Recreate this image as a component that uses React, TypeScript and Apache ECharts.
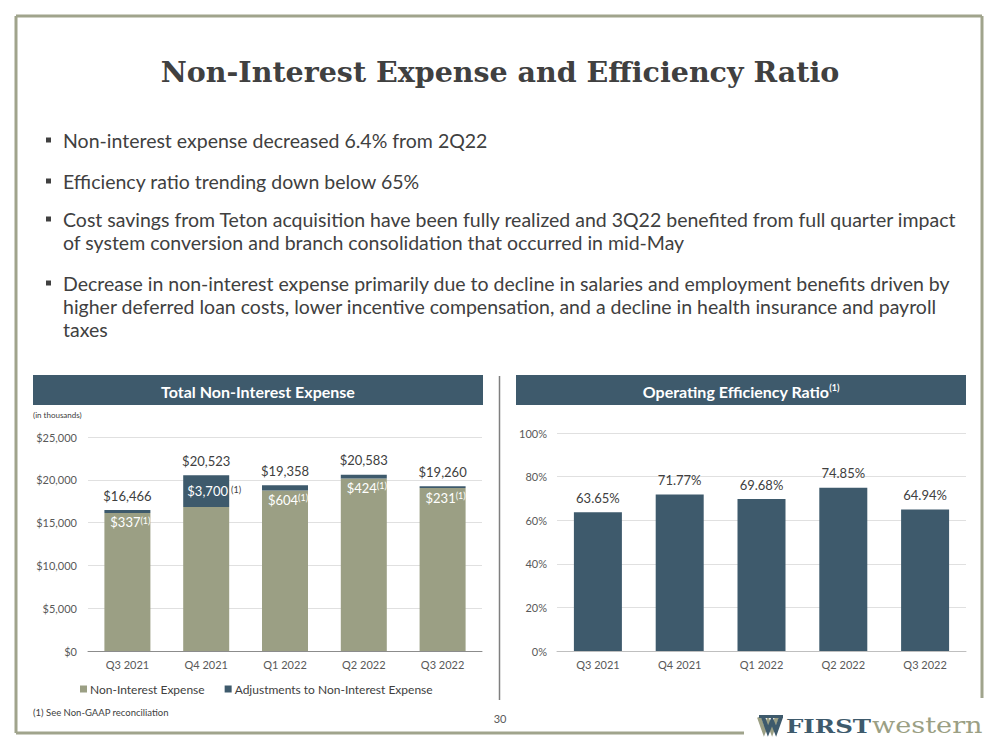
import React, { useEffect, useRef } from 'react';
import * as echarts from 'echarts';

const quarters = ['Q3 2021', 'Q4 2021', 'Q1 2022', 'Q2 2022', 'Q3 2022'];
const totalExpense = [16466, 20523, 19358, 20583, 19260];
const adjustments = [337, 3700, 604, 424, 231];
const efficiencyRatio = [63.65, 71.77, 69.68, 74.85, 64.94];
const expenseTicks = [0, 25000, 5000];
const ratioTicks = [0, 100, 20];

const bullets = [
  ['Non-interest expense decreased 6.4% from 2Q22'],
  ['Efficiency ratio trending down below 65%'],
  [
    'Cost savings from Teton acquisition have been fully realized and 3Q22 benefited from full quarter impact',
    'of system conversion and branch consolidation that occurred in mid-May',
  ],
  [
    'Decrease in non-interest expense primarily due to decline in salaries and employment benefits driven by',
    'higher deferred loan costs, lower incentive compensation, and a decline in health insurance and payroll',
    'taxes',
  ],
];

const GREEN = '#9b9f84';
const SLATE = '#3e5a6c';
const TEXT = '#404040';
const FRAME = '#a0a48c';
const FONT = 'Lato';

const fmtMoney = (v: number) => '$' + v.toLocaleString('en-US');

export default function App() {
  const ref = useRef<HTMLDivElement>(null);
  useEffect(() => {
    const chart = echarts.init(ref.current!, null, { renderer: 'svg' });
    const base = totalExpense.map((t, i) => t - adjustments[i]);

    const bulletY = [140, 181, 219, 283];
    const lineGap = 23;
    const graphic: any[] = [];
    // frame
    graphic.push(
      { type: 'line', shape: { x1: 16, y1: 16, x2: 982, y2: 16 }, style: { stroke: FRAME, lineWidth: 3 } },
      { type: 'line', shape: { x1: 16, y1: 16, x2: 16, y2: 733 }, style: { stroke: FRAME, lineWidth: 3 } },
      { type: 'line', shape: { x1: 982, y1: 16, x2: 982, y2: 698 }, style: { stroke: FRAME, lineWidth: 3 } },
      { type: 'line', shape: { x1: 16, y1: 733, x2: 744, y2: 733 }, style: { stroke: FRAME, lineWidth: 3 } }
    );
    graphic.push({
      type: 'text', x: 500, y: 72,
      style: { text: 'Non-Interest Expense and Efficiency Ratio', fontFamily: 'DejaVu Serif', fontWeight: 'bold', fontSize: 28.5, fill: TEXT, align: 'center', verticalAlign: 'middle' },
    });
    bullets.forEach((lines, bi) => {
      graphic.push({ type: 'rect', shape: { x: 46, y: bulletY[bi] - 2.5, width: 5, height: 5 }, style: { fill: TEXT } });
      lines.forEach((ln, li) => {
        graphic.push({
          type: 'text', x: 63, y: bulletY[bi] + li * lineGap,
          style: { text: ln, fontFamily: FONT, fontSize: 19.5, fill: TEXT, align: 'left', verticalAlign: 'middle' },
        });
      });
    });
    // header bars
    graphic.push(
      { type: 'rect', shape: { x: 33, y: 375, width: 450, height: 30 }, style: { fill: SLATE } },
      { type: 'text', x: 258, y: 391, style: { text: 'Total Non-Interest Expense', fontFamily: FONT, fontWeight: 'bold', fontSize: 16, fill: '#fff', align: 'center', verticalAlign: 'middle' } },
      { type: 'rect', shape: { x: 516, y: 375, width: 450, height: 30 }, style: { fill: SLATE } },
      {
        type: 'text', x: 741, y: 391,
        style: {
          text: '{h|Operating Efficiency Ratio}{s|(1)}', align: 'center', verticalAlign: 'middle',
          rich: {
            h: { fontFamily: FONT, fontWeight: 'bold', fontSize: 16, fill: '#fff', color: '#fff' },
            s: { fontFamily: FONT, fontWeight: 'bold', fontSize: 9, fill: '#fff', color: '#fff', verticalAlign: 'top' },
          },
        },
      },
      { type: 'line', shape: { x1: 499.5, y1: 376, x2: 499.5, y2: 700 }, style: { stroke: '#7f7f7f', lineWidth: 1.5 } },
      { type: 'text', x: 33, y: 415, style: { text: '(in thousands)', fontFamily: FONT, fontSize: 8, fill: TEXT, align: 'left', verticalAlign: 'middle' } },
      { type: 'text', x: 33, y: 712, style: { text: '(1) See Non-GAAP reconciliation', fontFamily: FONT, fontSize: 9.5, fill: TEXT, align: 'left', verticalAlign: 'middle' } },
      { type: 'text', x: 500, y: 718, style: { text: '30', fontFamily: FONT, fontSize: 11, fill: '#595959', align: 'center', verticalAlign: 'middle' } }
    );
    // logo
    graphic.push(
      { type: 'polyline', shape: { points: [[759, 717], [764, 731], [768, 721], [772, 731], [777, 717]] }, style: { stroke: GREEN, lineWidth: 4, fill: 'none' } },
      { type: 'polyline', shape: { points: [[763, 717], [768, 731], [772, 721], [776, 731], [781, 717]] }, style: { stroke: SLATE, lineWidth: 4, fill: 'none' } },
      { type: 'rect', shape: { x: 759, y: 715, width: 24, height: 3 }, style: { fill: SLATE } }
    );
    graphic.push({ type: 'text', x: 786, y: 727, scaleX: 1.36, style: { text: 'FIRST', fontFamily: 'DejaVu Serif', fontWeight: 'bold', fontSize: 18, fill: SLATE, align: 'left', verticalAlign: 'middle' } });
    graphic.push({ type: 'text', x: 872, y: 725, scaleX: 1.18, style: { text: 'western', fontFamily: 'DejaVu Serif', fontSize: 23, fill: GREEN, align: 'left', verticalAlign: 'middle' } });

    const axisLabel = { fontFamily: FONT, fontSize: 11, color: '#595959' };

    const option: any = {
      animation: false,
      backgroundColor: '#ffffff',
      textStyle: { fontFamily: FONT },
      graphic,
      legend: {
        data: ['Non-Interest Expense', 'Adjustments to Non-Interest Expense'],
        left: 75, top: 678, icon: 'rect', itemWidth: 7, itemHeight: 7, itemGap: 20,
        textStyle: { fontFamily: FONT, fontSize: 12, color: TEXT, padding: [0, 0, 0, -2] },
      },
      grid: [
        { left: 88, right: 517, top: 437, bottom: 99 },
        { left: 557, right: 33, top: 433, bottom: 99 },
      ],
      xAxis: [
        { type: 'category', gridIndex: 0, data: quarters, axisTick: { show: false }, axisLine: { lineStyle: { color: '#8c8c8c', width: 1 } }, axisLabel: { ...axisLabel, margin: 8 } },
        { type: 'category', gridIndex: 1, data: quarters, axisTick: { show: false }, axisLine: { lineStyle: { color: '#bfbfbf', width: 1 } }, axisLabel: { ...axisLabel, margin: 8 } },
      ],
      yAxis: [
        {
          type: 'value', gridIndex: 0, min: expenseTicks[0], max: expenseTicks[1], interval: expenseTicks[2],
          axisLine: { show: false }, axisTick: { show: false },
          splitLine: { lineStyle: { color: '#e0e0e0' } },
          axisLabel: { ...axisLabel, margin: 11, formatter: (v: number) => fmtMoney(v) },
        },
        {
          type: 'value', gridIndex: 1, min: ratioTicks[0], max: ratioTicks[1], interval: ratioTicks[2],
          axisLine: { show: false }, axisTick: { show: false },
          splitLine: { lineStyle: { color: '#e0e0e0' } },
          axisLabel: { ...axisLabel, margin: 10, formatter: (v: number) => v + '%' },
        },
      ],
      series: [
        {
          name: 'Non-Interest Expense', type: 'bar', stack: 'exp', xAxisIndex: 0, yAxisIndex: 0,
          barWidth: 46, itemStyle: { color: GREEN },
          data: base.map((v, i) => ({
            value: v,
            label: {
              show: true,
              position: 'insideTop',
              distance: 3,
              offset: i === 1 ? [8, -25] : [3, 0],
              formatter: i === 1
                ? '{w|' + fmtMoney(adjustments[i]) + '} {d|(1)}'
                : '{w|' + fmtMoney(adjustments[i]) + '}{s|(1)}',
              rich: {
                w: { color: '#ffffff', fontSize: 13, fontFamily: FONT },
                s: { color: '#ffffff', fontSize: 9, fontFamily: FONT, verticalAlign: 'top' },
                d: { color: TEXT, fontSize: 9, fontFamily: FONT, verticalAlign: 'top' },
              },
            },
          })),
        },
        {
          name: 'Adjustments to Non-Interest Expense', type: 'bar', stack: 'exp', xAxisIndex: 0, yAxisIndex: 0,
          barWidth: 46, itemStyle: { color: SLATE },
          data: adjustments,
          label: {
            show: true, position: 'top', distance: 8, color: TEXT, fontSize: 13, fontFamily: FONT,
            formatter: (p: any) => fmtMoney(totalExpense[p.dataIndex]),
          },
        },
        {
          name: 'Operating Efficiency Ratio', type: 'bar', xAxisIndex: 1, yAxisIndex: 1,
          barWidth: 48, itemStyle: { color: SLATE },
          data: efficiencyRatio,
          label: {
            show: true, position: 'top', distance: 8, color: TEXT, fontSize: 13, fontFamily: FONT,
            formatter: (p: any) => p.value.toFixed(2) + '%',
          },
        },
      ],
    };
    chart.setOption(option);
    return () => chart.dispose();
  }, []);
  return (
    <div
      ref={ref}
      style={{ position: 'absolute', left: 0, top: 0, width: 999, height: 750, background: '#fff' }}
    />
  );
}
